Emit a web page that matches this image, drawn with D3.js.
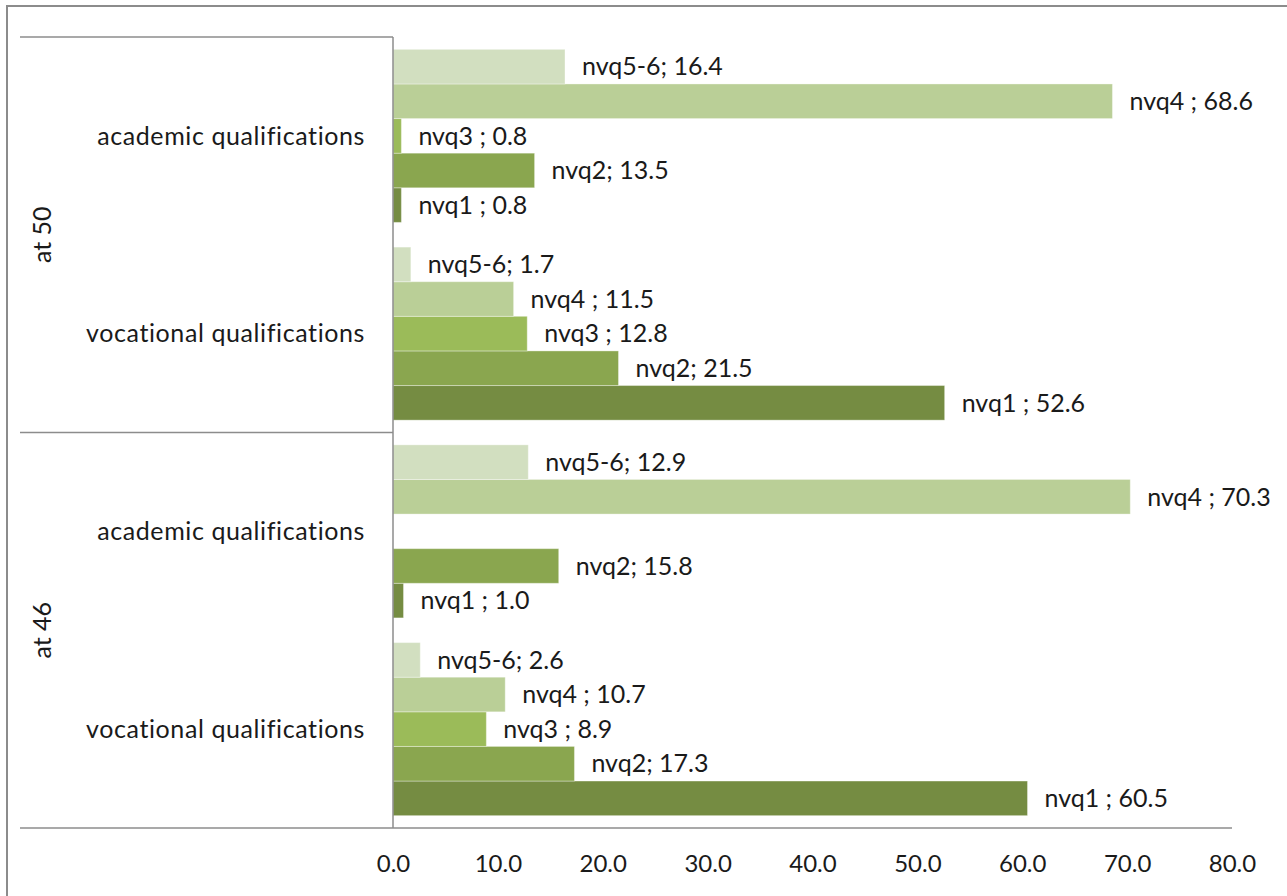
<!DOCTYPE html>
<html>
<head>
<meta charset="utf-8">
<script src="https://cdn.jsdelivr.net/npm/d3@7"></script>
<style>
  html, body { margin: 0; padding: 0; background: #fff; }
  svg { display: block; }
  text { font-family: Lato, "Open Sans", sans-serif; fill: #1a1a1a; }
</style>
</head>
<body>
<svg id="chart" width="1287" height="896"></svg>
<script>
// Age groups and qualification types (top to bottom)
const groups = ["at 50", "at 46"];
const qualTypes = ["academic qualifications", "vocational qualifications"];

// Series: NVQ levels (names as labelled on the bars)
const seriesNames = ["nvq1 ", "nvq2", "nvq3 ", "nvq4 ", "nvq5-6"];
const seriesColors = ["#758c42", "#8aa64f", "#9bbb59", "#bacf97", "#d2dfc0"];

// Percentages per series, for each row in order:
// at 50 academic, at 50 vocational, at 46 academic, at 46 vocational
const nvq1  = [0.8, 52.6, 1.0, 60.5];
const nvq2  = [13.5, 21.5, 15.8, 17.3];
const nvq3  = [0.8, 12.8, null, 8.9];
const nvq4  = [68.6, 11.5, 70.3, 10.7];
const nvq56 = [16.4, 1.7, 12.9, 2.6];
const seriesValues = [nvq1, nvq2, nvq3, nvq4, nvq56];

const xTicks = [0, 10, 20, 30, 40, 50, 60, 70, 80];

const svg = d3.select("#chart");

// Outer chart-area frame
svg.append("rect")
  .attr("x", 7).attr("y", 6)
  .attr("width", 1320).attr("height", 920)
  .attr("fill", "none").attr("stroke", "#8c8c8c").attr("stroke-width", 2);

const plot = { left: 393, right: 1232, top: 37, bottom: 828 };
const labelLeft = 20;

const rows = [];
groups.forEach(g => qualTypes.forEach(q => rows.push(g + "|" + q)));

const x = d3.scaleLinear().domain([0, 80]).range([plot.left, plot.right]);
const y = d3.scaleBand().domain(rows).range([plot.top, plot.bottom]).paddingInner(0).paddingOuter(0);
const ySeries = d3.scaleBand()
  .domain(seriesNames.slice().reverse())
  .range([0, y.bandwidth()])
  .paddingInner(0)
  .paddingOuter(0.357);

const fmt = d3.format(".1f");

// Bars
const bars = [];
seriesNames.forEach((s, si) => {
  seriesValues[si].forEach((v, ri) => {
    if (v !== null) bars.push({ series: s, si, row: rows[ri], value: v });
  });
});

svg.append("g").selectAll("rect")
  .data(bars)
  .join("rect")
  .attr("x", x(0))
  .attr("y", d => y(d.row) + ySeries(d.series))
  .attr("width", d => x(d.value) - x(0))
  .attr("height", ySeries.bandwidth())
  .attr("fill", d => seriesColors[d.si])
  .attr("stroke", "#ffffff")
  .attr("stroke-opacity", 0.35)
  .attr("stroke-width", 1);

// Data labels
svg.append("g").selectAll("text")
  .data(bars)
  .join("text")
  .attr("x", d => x(d.value) + 17)
  .attr("y", d => y(d.row) + ySeries(d.series) + ySeries.bandwidth() / 2)
  .attr("dy", "0.35em")
  .attr("font-size", 25)
  .text(d => d.series + "; " + fmt(d.value));

// Value axis
const xAxis = d3.axisBottom(x).tickValues(xTicks).tickFormat(fmt).tickSize(0).tickPadding(27);
const ax = svg.append("g").attr("transform", `translate(0,${plot.bottom})`).call(xAxis);
ax.select(".domain").remove();
ax.selectAll("text").attr("font-size", 24).attr("fill", "#1a1a1a")
  .style("font-family", "Lato, 'Open Sans', sans-serif");

// Axis lines
const lineColor = "#8c8c8c";
svg.append("line")
  .attr("x1", labelLeft).attr("x2", plot.right)
  .attr("y1", plot.bottom).attr("y2", plot.bottom)
  .attr("stroke", lineColor).attr("stroke-width", 1.5);
svg.append("line")
  .attr("x1", plot.left).attr("x2", plot.left)
  .attr("y1", plot.top).attr("y2", plot.bottom)
  .attr("stroke", lineColor).attr("stroke-width", 1.5);

// Group separators on the category axis
const groupBounds = groups.map(g => y(g + "|" + qualTypes[0]));
svg.append("g").selectAll("line")
  .data(groupBounds)
  .join("line")
  .attr("x1", labelLeft).attr("x2", plot.left)
  .attr("y1", d => d).attr("y2", d => d)
  .attr("stroke", lineColor).attr("stroke-width", 1.5);

// Qualification type labels
svg.append("g").selectAll("text")
  .data(rows)
  .join("text")
  .attr("x", 365)
  .attr("y", d => y(d) + y.bandwidth() / 2)
  .attr("dy", "0.35em")
  .attr("text-anchor", "end")
  .attr("font-size", 25)
  .attr("letter-spacing", 0.6)
  .text(d => d.split("|")[1]);

// Age group labels (rotated)
svg.append("g").selectAll("text")
  .data(groups)
  .join("text")
  .attr("transform", g => {
    const cy = y(g + "|" + qualTypes[0]) + y.bandwidth();
    return `translate(42,${cy}) rotate(-90)`;
  })
  .attr("dy", "0.35em")
  .attr("text-anchor", "middle")
  .attr("font-size", 25)
  .text(g => g);
</script>
</body>
</html>
